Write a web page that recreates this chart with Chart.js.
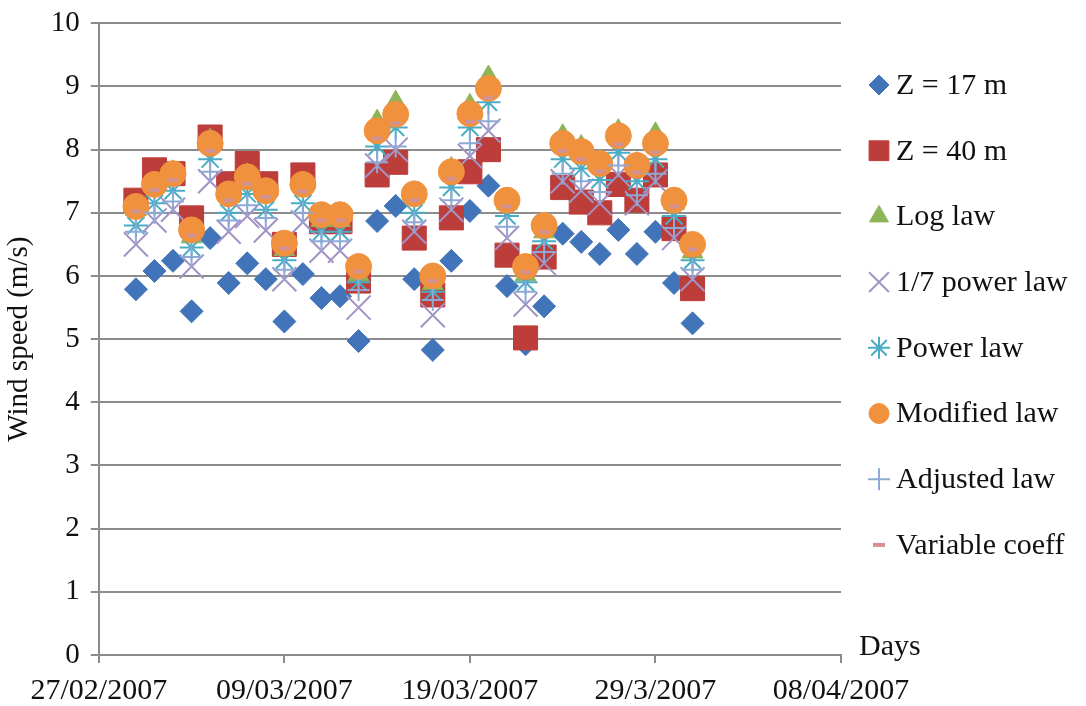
<!DOCTYPE html>
<html>
<head>
<meta charset="utf-8">
<script src="https://cdn.jsdelivr.net/npm/chart.js@4.4.1/dist/chart.umd.min.js"></script>
<style>
html, body { margin: 0; padding: 0; background: #fff; }
</style>
</head>
<body>
<canvas id="chart" width="1086" height="706"></canvas>
<script>
// day index counted from 27/02/2007
var days = [2, 3, 4, 5, 6, 7, 8, 9, 10, 11, 12, 13, 14, 15, 16, 17, 18, 19, 20, 21, 22, 23, 24, 25, 26, 27, 28, 29, 30, 31, 32];
var dateLabels = ['27/02/2007', '09/03/2007', '19/03/2007', '29/3/2007', '08/04/2007'];

var z17 = [5.79, 6.08, 6.24, 5.44, 6.60, 5.89, 6.20, 5.95, 5.28, 6.03, 5.65, 5.68, 4.97, 6.87, 7.11, 5.95, 4.83, 6.24, 7.03, 7.43, 5.84, 4.92, 5.52, 6.67, 6.54, 6.35, 6.73, 6.35, 6.70, 5.89, 5.25];
var z40 = [7.20, 7.68, 7.62, 6.92, 8.20, 7.46, 7.78, 7.46, 6.50, 7.60, 6.86, 6.86, 5.92, 7.60, 7.80, 6.60, 5.70, 6.92, 7.65, 8.00, 6.33, 5.02, 6.30, 7.40, 7.17, 7.00, 7.45, 7.20, 7.60, 6.75, 5.80];
var logLaw = [7.05, 7.45, 7.65, 6.62, 8.15, 7.28, 7.60, 7.33, 6.42, 7.45, 6.88, 6.88, 6.02, 8.45, 8.75, 7.25, 5.88, 7.70, 8.70, 9.15, 7.15, 6.02, 6.70, 8.22, 8.05, 7.82, 8.30, 7.78, 8.25, 7.15, 6.38];
var oneSeventh = [6.50, 6.88, 7.05, 6.15, 7.50, 6.70, 6.95, 6.72, 5.95, 6.85, 6.40, 6.40, 5.50, 7.75, 8.00, 6.70, 5.38, 7.05, 7.90, 8.30, 6.60, 5.55, 6.20, 7.50, 7.35, 7.15, 7.60, 7.15, 7.50, 6.60, 5.95];
var powerLaw = [6.80, 7.15, 7.35, 6.45, 7.85, 7.00, 7.30, 7.05, 6.25, 7.15, 6.70, 6.70, 5.90, 8.05, 8.35, 7.00, 5.75, 7.40, 8.35, 8.75, 6.95, 5.90, 6.55, 7.85, 7.70, 7.52, 7.95, 7.50, 7.85, 6.95, 6.25];
var modified = [7.10, 7.45, 7.62, 6.73, 8.10, 7.30, 7.57, 7.35, 6.52, 7.45, 6.97, 6.97, 6.15, 8.30, 8.56, 7.30, 6.00, 7.65, 8.57, 8.97, 7.20, 6.15, 6.80, 8.10, 7.97, 7.78, 8.22, 7.75, 8.10, 7.20, 6.50];
var adjusted = [6.70, 7.00, 7.18, 6.30, 7.65, 6.88, 7.12, 6.92, 6.10, 7.00, 6.55, 6.55, 5.78, 7.80, 8.05, 6.85, 5.62, 7.20, 8.10, 8.45, 6.78, 5.75, 6.38, 7.62, 7.50, 7.33, 7.75, 7.28, 7.62, 6.76, 6.10];
var varCoeff = [7.02, 7.36, 7.52, 6.64, 7.98, 7.20, 7.46, 7.25, 6.44, 7.34, 6.88, 6.88, 6.07, 8.18, 8.42, 7.20, 5.92, 7.54, 8.44, 8.82, 7.10, 6.06, 6.70, 7.98, 7.85, 7.66, 8.08, 7.64, 7.96, 7.10, 6.42];

function pts(values) {
    return days.map(function (d, i) { return { x: d, y: values[i] }; });
}

var serif = '"Liberation Serif", "Times New Roman", serif';
var gridGrey = '#8c8c8c';

// draws the side legend and the "Days" label
var sideLegend = {
    id: 'sideLegend',
    afterDraw: function (chart) {
        var ctx = chart.ctx;
        var area = chart.chartArea;
        ctx.save();
        ctx.font = '30px ' + serif;
        ctx.fillStyle = '#111';
        ctx.textBaseline = 'middle';
        ctx.textAlign = 'left';
        ctx.fillText('Days', area.right + 18, area.bottom - 8);
        chart.data.datasets.forEach(function (ds, i) {
            var y = 85 + i * 65.7;
            ctx.fillStyle = ds.backgroundColor;
            ctx.strokeStyle = ds.borderColor;
            ctx.lineWidth = ds.pointBorderWidth;
            Chart.helpers.drawPoint(ctx, {
                pointStyle: ds.pointStyle,
                radius: ds.legendRadius,
                borderWidth: ds.pointBorderWidth,
                rotation: 0
            }, 879, y);
            ctx.fillStyle = '#111';
            ctx.fillText(ds.label, 896, y + 1);
        });
        ctx.restore();
    }
};

var ctx = document.getElementById('chart').getContext('2d');
var chart = new Chart(ctx, {
    type: 'scatter',
    data: {
        datasets: [{
            label: 'Z = 17 m',
            data: pts(z17),
            pointStyle: 'rectRot',
            pointRadius: 11.5,
            backgroundColor: '#4174b8',
            borderColor: '#4174b8',
            pointBorderWidth: 1,
            legendRadius: 10,
            order: 8
        }, {
            label: 'Z = 40 m',
            data: pts(z40),
            pointStyle: 'rect',
            pointRadius: 17,
            backgroundColor: '#bc3d3a',
            borderColor: '#bc3d3a',
            pointBorderWidth: 1,
            legendRadius: 14,
            order: 7
        }, {
            label: 'Log law',
            data: pts(logLaw),
            pointStyle: 'triangle',
            pointRadius: 12,
            backgroundColor: '#8db456',
            borderColor: '#8db456',
            pointBorderWidth: 1,
            legendRadius: 11,
            order: 6
        }, {
            label: '1/7 power law',
            data: pts(oneSeventh),
            pointStyle: 'crossRot',
            pointRadius: 17,
            backgroundColor: '#a393c4',
            borderColor: '#a393c4',
            pointBorderWidth: 2,
            legendRadius: 14,
            order: 5
        }, {
            label: 'Power law',
            data: pts(powerLaw),
            pointStyle: 'star',
            pointRadius: 12,
            backgroundColor: '#4bacc6',
            borderColor: '#4bacc6',
            pointBorderWidth: 2,
            legendRadius: 11,
            order: 4
        }, {
            label: 'Modified law',
            data: pts(modified),
            pointStyle: 'circle',
            pointRadius: 13,
            backgroundColor: '#f0913e',
            borderColor: '#f0913e',
            pointBorderWidth: 1,
            legendRadius: 10,
            order: 3
        }, {
            label: 'Adjusted law',
            data: pts(adjusted),
            pointStyle: 'cross',
            pointRadius: 11,
            backgroundColor: '#8ea9d6',
            borderColor: '#8ea9d6',
            pointBorderWidth: 2,
            legendRadius: 11,
            order: 2
        }, {
            label: 'Variable coeff',
            data: pts(varCoeff),
            pointStyle: 'line',
            pointRadius: 5,
            backgroundColor: '#d4918f',
            borderColor: '#d4918f',
            pointBorderWidth: 4,
            legendRadius: 6,
            order: 1
        }]
    },
    options: {
        responsive: false,
        animation: false,
        layout: {
            padding: { top: 0, right: 245, bottom: 0, left: 2 }
        },
        plugins: {
            legend: { display: false },
            tooltip: { enabled: false }
        },
        scales: {
            x: {
                type: 'linear',
                min: 0,
                max: 40,
                afterFit: function (scale) { scale.height = 51; },
                ticks: {
                    stepSize: 10,
                    color: '#111',
                    font: { family: serif, size: 30, lineHeight: 1.0 },
                    padding: 13,
                    maxRotation: 0,
                    callback: function (v) { return dateLabels[v / 10]; }
                },
                grid: {
                    drawOnChartArea: false,
                    color: gridGrey,
                    lineWidth: 2,
                    tickLength: 8
                },
                border: { color: gridGrey, width: 2 }
            },
            y: {
                min: 0,
                max: 10,
                ticks: {
                    stepSize: 1,
                    color: '#111',
                    font: { family: serif, size: 29, lineHeight: 0.85 },
                    padding: 11
                },
                grid: {
                    color: gridGrey,
                    lineWidth: 2,
                    tickLength: 8
                },
                border: { color: gridGrey, width: 2 },
                title: {
                    display: true,
                    text: 'Wind speed (m/s)',
                    color: '#111',
                    font: { family: serif, size: 29 },
                    padding: { top: 0, bottom: 3 }
                }
            }
        }
    },
    plugins: [sideLegend]
});
</script>
</body>
</html>
